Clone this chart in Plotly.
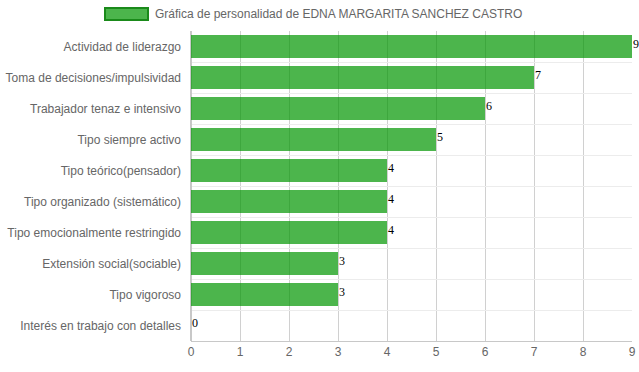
import plotly.graph_objects as go

categories = [
    "Actividad de liderazgo",
    "Toma de decisiones/impulsividad",
    "Trabajador tenaz e intensivo",
    "Tipo siempre activo",
    "Tipo teórico(pensador)",
    "Tipo organizado (sistemático)",
    "Tipo emocionalmente restringido",
    "Extensión social(sociable)",
    "Tipo vigoroso",
    "Interés en trabajo con detalles",
]
values = [9, 7, 6, 5, 4, 4, 4, 3, 3, 0]
series_name = "Gráfica de personalidad de EDNA MARGARITA SANCHEZ CASTRO"
x_ticks = list(range(0, 10))

fig = go.Figure()
fig.add_trace(go.Bar(
    x=values,
    y=categories,
    orientation="h",
    name=series_name,
    marker=dict(color="rgba(0,150,0,0.7)", line=dict(width=0)),
    showlegend=False,
    hoverinfo="x+y",
))

value_labels = [
    dict(x=v, y=c, text=str(v), xref="x", yref="y", xanchor="left", yanchor="middle",
         showarrow=False, xshift=0, yshift=3, borderpad=0,
         font=dict(family="Liberation Serif", size=12, color="#000"))
    for c, v in zip(categories, values)
]

fig.update_layout(
    width=639, height=372,
    margin=dict(l=191, r=7, t=31, b=31, autoexpand=False),
    paper_bgcolor="white", plot_bgcolor="white",
    bargap=0.26,
    font=dict(family="Liberation Sans, Arial", size=12, color="#666"),
    shapes=[dict(
        type="rect", xref="paper", yref="paper",
        x0=-86/441, x1=-43/441, y0=1 + 11/310, y1=1 + 23/310,
        fillcolor="rgba(0,150,0,0.7)", line=dict(color="#1a8a1a", width=2),
    )],
    annotations=[dict(
        text=series_name, xref="paper", yref="paper",
        x=-38/441, y=1 + 17/310, xanchor="left", yanchor="middle",
        showarrow=False, font=dict(family="Liberation Sans, Arial", size=12, color="#666"),
    )] + value_labels,
)
fig.update_xaxes(
    range=[0, 9], tickvals=x_ticks, showgrid=True, gridcolor="#d0d0d0", gridwidth=1,
    zeroline=True, zerolinecolor="#c8c8c8", showline=True, linecolor="#c8c8c8",
    ticks="", tickfont=dict(size=12, color="#666"), fixedrange=True, automargin=False,
)
fig.update_yaxes(
    autorange="reversed", tickson="boundaries", showgrid=True, gridcolor="#ececec",
    ticks="", ticklabelstandoff=9, tickfont=dict(size=12, color="#666"), fixedrange=True,
    automargin=False,
)
fig.write_html(
    "out.html",
    config={"displayModeBar": False},
    post_script="document.body.style.margin='0';document.documentElement.style.overflow='hidden';",
)
